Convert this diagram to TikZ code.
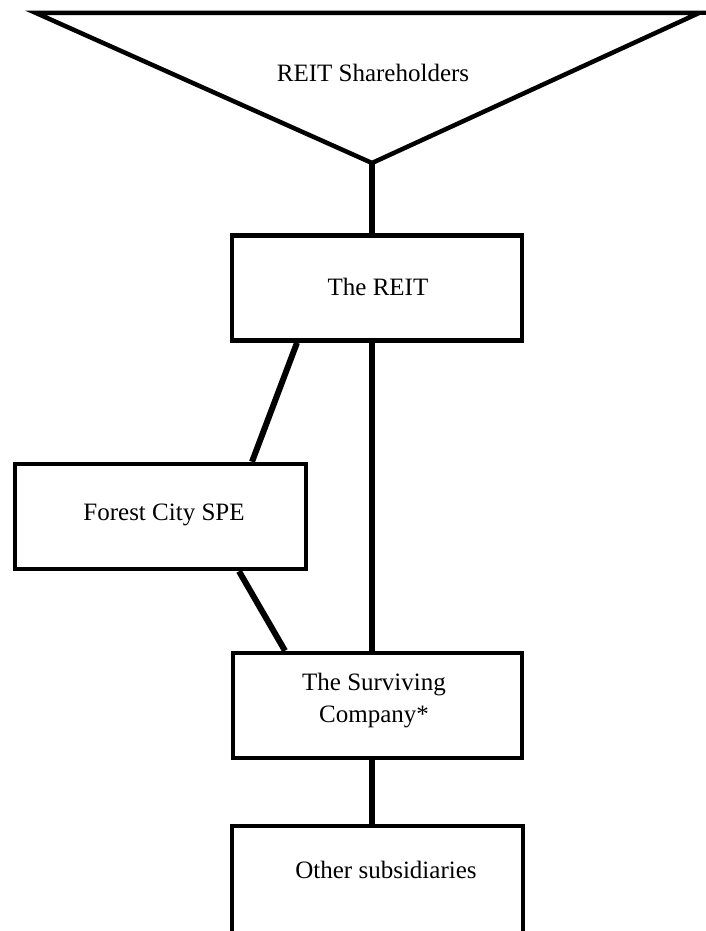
\documentclass[tikz,border=0pt]{standalone}
\usepackage{fontspec}
\setmainfont{Liberation Serif}
\usepackage{tikz}
\tikzset{
FUNNEL/.style ={draw=black,line join=miter,line cap=butt,miter limit=10.00,line width=4.5pt},
BOX/.style ={draw=black,line join=miter,line width=4.5pt,rectangle,minimum width=290pt,minimum height=105pt,inner sep=0pt},
LINK/.style ={draw=black,line cap=butt,line width=6pt},
TEXT/.style ={font=\fontsize{25}{32}\selectfont,align=center,inner sep=0pt},
}
\begin{document}
\begin{tikzpicture}[x=1pt, y=-1pt] %Ownership chart
	\useasboundingbox (0,0) rectangle (706,931);
	\coordinate (tl) at (36,13);
	\coordinate (tr) at (699,13);
	\coordinate (apex) at (372,163);
	\path[FUNNEL] (tl) -- (tr) -- (apex) -- cycle;
	\path[FUNNEL] (tr) -- (712,13);
	\node[TEXT] (holders) at (373,73) {REIT Shareholders};
	\node[BOX] (reit) at (377,288) {};
	\node[TEXT] (reitlabel) at (378,287) {The REIT};
	\node[BOX,minimum width=291pt] (spe) at (160.5,516.5) {};
	\node[TEXT] (spelabel) at (164,515) {Forest City SPE};
	\node[BOX,minimum width=289pt] (surv) at (377.5,705.5) {};
	\node[TEXT] (survlabel) at (374,701) {The Surviving\\Company*};
	\node[BOX,minimum width=291pt,minimum height=140pt] (other) at (377.5,896) {};
	\node[TEXT] (otherlabel) at (386,870) {Other subsidiaries};
	\path[LINK] (apex) -- (reit.north -| apex);
	\path[LINK] (reit.south -| apex) -- (surv.north -| apex);
	\path[LINK] (reit.south -| 297,0) -- (spe.north -| 252,0);
	\path[LINK] (spe.south -| 239,0) -- (surv.north -| 285,0);
	\path[LINK] (surv.south -| apex) -- (other.north -| apex);
\end{tikzpicture}
\end{document}
